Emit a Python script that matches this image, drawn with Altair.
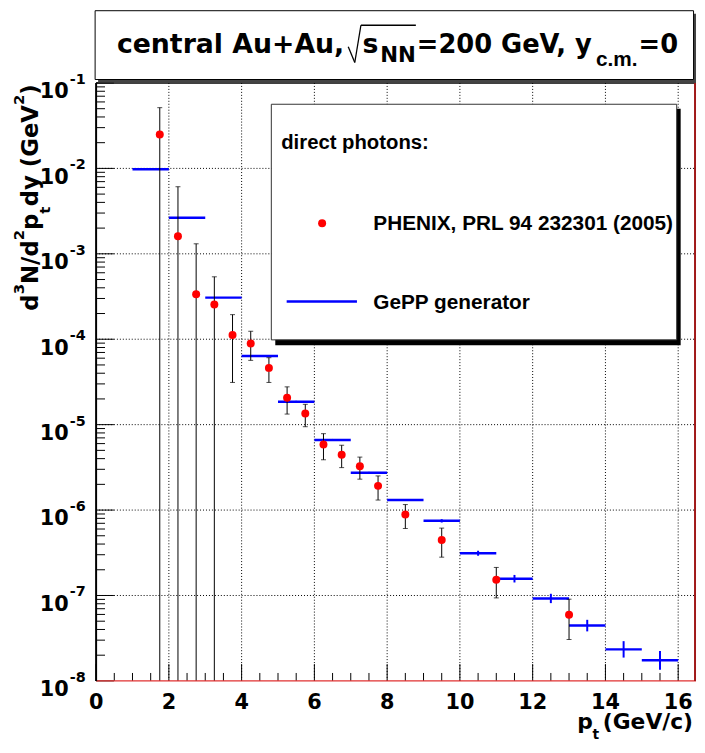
import altair as alt
import pandas as pd

# ---------------- data ----------------
phenix_pt = [1.75, 2.25, 2.75, 3.25, 3.75, 4.25, 4.75, 5.25, 5.75, 6.25, 6.75,
             7.25, 7.75, 8.5, 9.5, 11.0, 13.0]
phenix_val = [2.5e-2, 1.61e-3, 3.36e-4, 2.55e-4, 1.12e-4, 8.9e-5, 4.62e-5,
              2.07e-5, 1.35e-5, 5.85e-6, 4.44e-6, 3.25e-6, 1.92e-6, 8.85e-7,
              4.46e-7, 1.53e-7, 5.96e-8]
phenix_hi = [5.14e-2, 6.1e-3, 1.31e-3, 5.38e-4, 1.94e-4, 1.24e-4, 6.08e-5,
             2.77e-5, 1.73e-5, 7.84e-6, 5.74e-6, 4.17e-6, 2.51e-6, 1.16e-6,
             6.15e-7, 2.13e-7, 9.05e-8]
# None = lower edge of the error bar is below zero (off the log axis)
phenix_lo = [None, None, None, None, 3.12e-5, 5.66e-5, 3.12e-5, 1.33e-5,
             9.46e-6, 3.88e-6, 3.14e-6, 2.30e-6, 1.31e-6, 6.08e-7, 2.81e-7,
             9.37e-8, 3.05e-8]

gepp_bin_lo = [1, 2, 3, 4, 5, 6, 7, 8, 9, 10, 11, 12, 13, 14, 15]
gepp_bin_hi = [2, 3, 4, 5, 6, 7, 8, 9, 10, 11, 12, 13, 14, 15, 16]
gepp_val = [9.8e-3, 2.65e-3, 3.07e-4, 6.35e-5, 1.85e-5, 6.62e-6, 2.74e-6,
            1.31e-6, 7.48e-7, 3.12e-7, 1.57e-7, 9.23e-8, 4.44e-8, 2.34e-8,
            1.74e-8]
gepp_lo = [9.8e-3, 2.65e-3, 3.07e-4, 6.35e-5, 1.80e-5, 6.45e-6, 2.68e-6,
           1.28e-6, 7.15e-7, 2.92e-7, 1.42e-7, 8.14e-8, 3.80e-8, 1.875e-8,
           1.35e-8]
gepp_hi = [9.8e-3, 2.65e-3, 3.07e-4, 6.35e-5, 1.90e-5, 6.80e-6, 2.80e-6,
           1.34e-6, 7.82e-7, 3.34e-7, 1.74e-7, 1.047e-7, 5.19e-8, 2.92e-8,
           2.24e-8]

x_major = [0, 2, 4, 6, 8, 10, 12, 14, 16]
x_tick_labels = ["0", "2", "4", "6", "8", "10", "12", "14", "16"]
x_minor = [0.5, 1, 1.5, 2.5, 3, 3.5, 4.5, 5, 5.5, 6.5, 7, 7.5, 8.5, 9, 9.5,
           10.5, 11, 11.5, 12.5, 13, 13.5, 14.5, 15, 15.5]
y_decade_exp = [-8, -7, -6, -5, -4, -3, -2, -1]
y_minor_mult = [2, 3, 4, 5, 6, 7, 8, 9]

# ---------------- layout ----------------
W, H = 606, 604
OX, OY = 97, 80          # page position of the plot origin
FONT = "Liberation Sans"
TFONT = "DejaVu Sans"


def X(p):
    return p - OX


def Y(p):
    return p - OY


xs = alt.Scale(domain=[0, 16.49], nice=False, zero=False)
ys = alt.Scale(type="log", domain=[1e-8, 1e-1], nice=False)

one = pd.DataFrame({"a": [1]})

ph = pd.DataFrame({
    "pt": phenix_pt, "v": phenix_val, "hi": phenix_hi,
    "lo": [l if l is not None else 1e-12 for l in phenix_lo],
    "haslo": [l is not None for l in phenix_lo],
})
ge = pd.DataFrame({"x1": gepp_bin_lo, "x2": gepp_bin_hi, "v": gepp_val,
                   "lo": gepp_lo, "hi": gepp_hi})
ge["xc"] = (ge["x1"] + ge["x2"]) / 2

xmaj = pd.DataFrame({"x": x_major, "lab": x_tick_labels})
xmin = pd.DataFrame({"x": x_minor})
ydec = pd.DataFrame({"y": [10.0 ** e for e in y_decade_exp],
                     "e": [str(e) for e in y_decade_exp]})
ymin = pd.DataFrame({"y": [m * 10.0 ** e for e in y_decade_exp[:-1]
                           for m in y_minor_mult]})

layers = []

# grid
layers.append(alt.Chart(xmaj[xmaj.x > 0]).mark_rule(
    color="black", strokeWidth=1, strokeDash=[1, 2]).encode(
    x=alt.X("x:Q", scale=xs, axis=None), y=alt.value(0), y2=alt.value(H)))
gy = ydec[(ydec.y > 2e-8) & (ydec.y < 5e-2)]
layers.append(alt.Chart(gy).mark_rule(
    color="black", strokeWidth=1, strokeDash=[1, 2]).encode(
    y=alt.Y("y:Q", scale=ys, axis=None), x=alt.value(0), x2=alt.value(W)))

# ticks (inward)
layers.append(alt.Chart(xmaj).mark_rule(color="black", strokeWidth=1).encode(
    x=alt.X("x:Q", scale=xs, axis=None), y=alt.value(H), y2=alt.value(H - 17)))
layers.append(alt.Chart(xmin).mark_rule(color="black", strokeWidth=1).encode(
    x=alt.X("x:Q", scale=xs, axis=None), y=alt.value(H), y2=alt.value(H - 8)))
layers.append(alt.Chart(ydec).mark_rule(color="black", strokeWidth=1).encode(
    y=alt.Y("y:Q", scale=ys, axis=None), x=alt.value(0), x2=alt.value(18)))
layers.append(alt.Chart(ymin).mark_rule(color="black", strokeWidth=1).encode(
    y=alt.Y("y:Q", scale=ys, axis=None), x=alt.value(0), x2=alt.value(9)))

# GePP histogram
layers.append(alt.Chart(ge).mark_rule(color="#0000ff", strokeWidth=2.5).encode(
    x=alt.X("x1:Q", scale=xs, axis=None), x2="x2:Q",
    y=alt.Y("v:Q", scale=ys, axis=None)))
layers.append(alt.Chart(ge).mark_rule(color="#0000ff", strokeWidth=2).encode(
    x=alt.X("xc:Q", scale=xs, axis=None),
    y=alt.Y("lo:Q", scale=ys, axis=None), y2="hi:Q"))

# PHENIX error bars
layers.append(alt.Chart(ph).mark_rule(color="black", strokeWidth=1, clip=True).encode(
    x=alt.X("pt:Q", scale=xs, axis=None),
    y=alt.Y("lo:Q", scale=ys, axis=None), y2="hi:Q"))
layers.append(alt.Chart(ph).mark_tick(color="black", orient="horizontal",
                                      size=5, thickness=1).encode(
    x=alt.X("pt:Q", scale=xs, axis=None), y=alt.Y("hi:Q", scale=ys, axis=None)))
layers.append(alt.Chart(ph[ph.haslo]).mark_tick(color="black", orient="horizontal",
                                                size=5, thickness=1).encode(
    x=alt.X("pt:Q", scale=xs, axis=None), y=alt.Y("lo:Q", scale=ys, axis=None)))
layers.append(alt.Chart(ph).mark_circle(color="#ff0000", opacity=1, size=65).encode(
    x=alt.X("pt:Q", scale=xs, axis=None), y=alt.Y("v:Q", scale=ys, axis=None)))


# frame
def rule(x1, y1, x2, y2, color="black", w=1.0):
    return alt.Chart(one).mark_rule(color=color, strokeWidth=w).encode(
        x=alt.value(x1), y=alt.value(y1), x2=alt.value(x2), y2=alt.value(y2))


layers.append(rule(0, 0, W, 0, "black", 1.5))
layers.append(rule(0, H, W, H, "#e03030", 1.2))
layers.append(rule(W - 1, 0, W - 1, H, "#a01818", 2))
layers.append(rule(0, 0, 0, H, "black", 2))


def rect(x1, y1, x2, y2, fill, stroke=None, w=1.0):
    kw = dict(fill=fill)
    if stroke:
        kw.update(stroke=stroke, strokeWidth=w)
    else:
        kw.update(strokeWidth=0)
    return alt.Chart(one).mark_rect(**kw).encode(
        x=alt.value(x1), y=alt.value(y1), x2=alt.value(x2), y2=alt.value(y2))


def text(t, x, y, size, font=FONT, align="left", angle=0, weight="bold"):
    kw = dict(text=t, font=font, fontSize=size, fontWeight=weight,
              align=align, baseline="alphabetic", color="black")
    if angle:
        kw["angle"] = angle
    return alt.Chart(one).mark_text(**kw).encode(x=alt.value(x), y=alt.value(y))


# legend box
layers.append(rect(X(278), Y(106), X(687.5), Y(345), "black"))
layers.append(rect(X(274), Y(101.5), X(683.5), Y(339.5), "white", "#333333", 1))
layers.append(text("direct photons:", X(284), Y(147), 20.5))
layers.append(alt.Chart(one).mark_circle(color="#ff0000", opacity=1, size=65).encode(
    x=alt.value(X(325.3)), y=alt.value(Y(221.7))))
layers.append(text("PHENIX, PRL 94 232301 (2005)", X(377), Y(228.5), 21))
layers.append(rule(X(289.5), Y(300.7), X(360.5), Y(300.7), "#0000ff", 2.5))
layers.append(text("GePP generator", X(377), Y(308.5), 21))

# title box
layers.append(rect(X(99), Y(10), X(703), Y(79.5), "#444444"))
layers.append(rect(X(96), Y(7), X(700.5), Y(76.5), "white", "black", 1))
layers.append(text("central Au+Au,", X(118), Y(49.5), 27, font=TFONT))
layers.append(rule(X(351.7), Y(43.5), X(358.3), Y(59.3), "black", 1.3))
layers.append(rule(X(358.3), Y(59.3), X(364.5), Y(21.7), "black", 1.3))
layers.append(rule(X(364.5), Y(21.7), X(420), Y(21.7), "black", 1.3))
layers.append(text("s", X(366), Y(49.5), 27, font=TFONT))
layers.append(text("NN", X(384), Y(58.5), 21.5, font=TFONT))
layers.append(text("=200 GeV, y", X(421), Y(49.5), 26, font=TFONT))
layers.append(text("c.m.", X(602), Y(63.3), 21, font=FONT))
layers.append(text("=0", X(645), Y(49.5), 26, font=TFONT))

# x tick labels
layers.append(alt.Chart(xmaj).mark_text(
    font=TFONT, fontSize=21, fontWeight="bold", align="center",
    baseline="alphabetic", color="black").encode(
    x=alt.X("x:Q", scale=xs, axis=None), y=alt.value(Y(712.5)), text="lab:N"))

# y tick labels  10^e
layers.append(alt.Chart(ydec).mark_text(
    font=TFONT, fontSize=21, fontWeight="bold", align="left",
    baseline="alphabetic", color="black", dy=15.5, text="10").encode(
    y=alt.Y("y:Q", scale=ys, axis=None), x=alt.value(X(40))))
layers.append(alt.Chart(ydec).mark_text(
    font=TFONT, fontSize=14.5, fontWeight="bold", align="left",
    baseline="alphabetic", color="black", dy=1).encode(
    y=alt.Y("y:Q", scale=ys, axis=None), x=alt.value(X(70.5)), text="e:N"))

# x axis title
layers.append(text("p", X(583), Y(733), 22, font=TFONT))
layers.append(text("t", X(598.5), Y(742.5), 14, font=TFONT))
layers.append(text("(GeV/c)", X(700), Y(733), 22, font=TFONT, align="right"))

# y axis title (rotated pieces): text, baseline x, start y, size
ypieces = [("d", 38.5, 310, 23), ("3", 24, 293.5, 15), ("N/d", 38.5, 283, 23),
           ("2", 24, 238.9, 15), ("p", 38.5, 228.5, 23), ("t", 50, 212, 15),
           ("dy (GeV", 38.5, 204.5, 23), ("2", 24, 102.2, 15),
           (")", 38.5, 91.8, 23)]
for t, xb, ys0, sz in ypieces:
    layers.append(text(t, X(xb), Y(ys0), sz, font=TFONT, angle=270))

chart = alt.layer(*layers).properties(
    width=W, height=H,
    padding={"left": 89, "top": 72, "right": 1, "bottom": 60},
    autosize=alt.AutoSizeParams(type="none"),
).configure_view(stroke=None)

chart.save("out.html", embed_options={"renderer": "svg", "actions": False})
